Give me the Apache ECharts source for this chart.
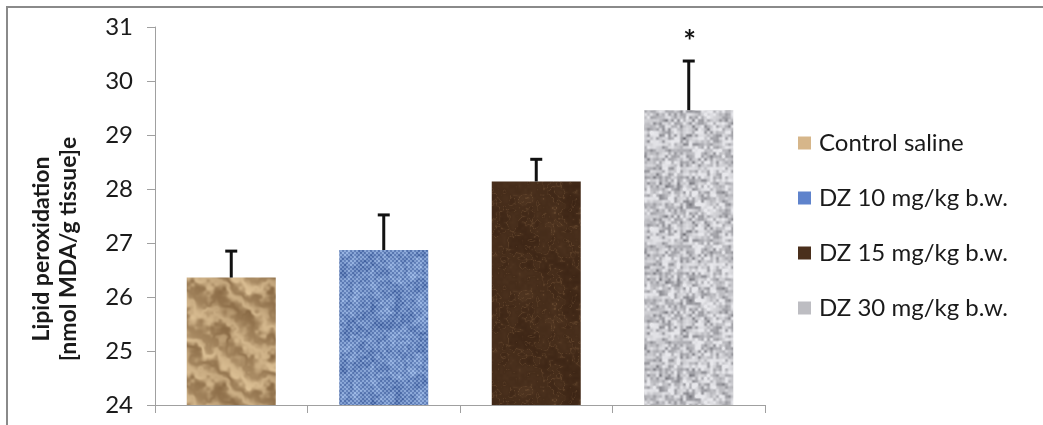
<!DOCTYPE html>
<html>
<head>
<meta charset="utf-8">
<script src="https://cdn.jsdelivr.net/npm/echarts@6/dist/echarts.min.js"></script>
<style>
html,body{margin:0;padding:0;background:#fff;}
#chart{width:1043px;height:425px;}
</style>
</head>
<body>
<div id="chart"></div>
<script>
// ---- data ----
var categories = ['Control saline', 'DZ 10 mg/kg b.w.', 'DZ 15 mg/kg b.w.', 'DZ 30 mg/kg b.w.'];
var means = [26.36, 26.87, 28.14, 29.46];
var upperErr = [26.85, 27.52, 28.55, 30.37];
var significance = ['', '', '', '*'];
var yTicks = [24, 25, 26, 27, 28, 29, 30, 31];
var yTitle = ['Lipid peroxidation', '[nmol MDA/g tissue]e'];
var swatchColors = ['#d6b68a', '#5f83cc', '#4a2f1c', '#bdbdc2'];

// ---- deterministic textures (styling only) ----
function hash(x, y, s) {
  var h = Math.sin(x * 127.1 + y * 311.7 + s * 74.7) * 43758.5453;
  return h - Math.floor(h);
}
function vnoise(x, y, cell, period, s) {
  var gx = x / cell, gy = y / cell;
  var x0 = Math.floor(gx), y0 = Math.floor(gy);
  var fx = gx - x0, fy = gy - y0;
  fx = fx * fx * (3 - 2 * fx); fy = fy * fy * (3 - 2 * fy);
  function g(i, j) { return hash(((i % period) + period) % period, ((j % period) + period) % period, s); }
  var a = g(x0, y0), b = g(x0 + 1, y0), c = g(x0, y0 + 1), d = g(x0 + 1, y0 + 1);
  return (a * (1 - fx) + b * fx) * (1 - fy) + (c * (1 - fx) + d * fx) * fy;
}
function mix(c1, c2, t) {
  t = Math.max(0, Math.min(1, t));
  return [c1[0] + (c2[0] - c1[0]) * t, c1[1] + (c2[1] - c1[1]) * t, c1[2] + (c2[2] - c1[2]) * t];
}
function makeTexture(kind) {
  var N = 96;
  var cv = document.createElement('canvas');
  cv.width = N; cv.height = N;
  var ctx = cv.getContext('2d');
  var img = ctx.createImageData(N, N);
  for (var y = 0; y < N; y++) {
    for (var x = 0; x < N; x++) {
      var col;
      if (kind === 0) {
        var n = 0.55 * vnoise(x, y, 16, 6, 1) + 0.3 * vnoise(x, y, 8, 12, 2) + 0.15 * vnoise(x, y, 4, 24, 3);
        var streak = 0.5 + 0.5 * Math.sin(2 * Math.PI * (2 * x - 3 * y) / 96 + n * 10);
        col = mix([122, 90, 54], [228, 200, 156], 0.3 + 0.5 * streak + 0.5 * (n - 0.5));
      } else if (kind === 1) {
        var n1 = vnoise(x, y, 3, 32, 4);
        var wx = (x % 4) < 2 ? 1 : 0, wy = (y % 4) < 2 ? 1 : 0;
        var t = 0.35 * n1 + 0.45 * ((wx ^ wy) ? 1 : 0.3) + 0.2 * vnoise(x, y, 12, 8, 5);
        col = mix([40, 72, 140], [170, 198, 240], t);
      } else if (kind === 2) {
        var n2 = 0.5 * vnoise(x, y, 24, 4, 6) + 0.3 * vnoise(x, y, 8, 12, 7) + 0.2 * vnoise(x, y, 3, 32, 10);
        var vein = 1 - Math.abs(Math.sin(n2 * 14));
        col = mix([56, 33, 18], [128, 94, 62], 0.1 + 0.35 * Math.pow(vein, 6) + 0.45 * (n2 - 0.3));
      } else {
        var n3 = 0.7 * vnoise(x, y, 3, 32, 8) + 0.3 * vnoise(x, y, 6, 16, 9);
        col = mix([105, 105, 112], [232, 232, 236], Math.pow(n3, 0.7) * 1.15);
      }
      var k = (y * N + x) * 4;
      img.data[k] = col[0]; img.data[k + 1] = col[1]; img.data[k + 2] = col[2]; img.data[k + 3] = 255;
    }
  }
  ctx.putImageData(img, 0, 0);
  return cv;
}

var FONT = 'Lato';
var chart = echarts.init(document.getElementById('chart'), null, { renderer: 'canvas' });

var barSeries = categories.map(function (name, i) {
  return {
    name: name,
    type: 'bar',
    barWidth: 89,
    barGap: '-100%',
    itemStyle: { color: { image: makeTexture(i), repeat: 'repeat' } },
    data: means.map(function (v, j) { return j === i ? v : null; }),
    z: 2
  };
});

var errData = means.map(function (v, i) { return [i, v, upperErr[i], significance[i]]; });

var option = {
  animation: false,
  backgroundColor: '#ffffff',
  grid: { left: 155, right: 278, top: 27, bottom: 20, containLabel: false },
  legend: {
    orient: 'vertical',
    left: 793,
    top: 126,
    itemWidth: 13,
    itemHeight: 13,
    itemGap: 31,
    icon: 'rect',
    data: categories.map(function (c, i) { return { name: c, itemStyle: { color: swatchColors[i] } }; }),
    textStyle: { fontFamily: FONT, fontSize: 24, color: '#1a1a1a', lineHeight: 24, padding: [0, 0, 0, 3] }
  },
  xAxis: {
    type: 'category',
    data: categories,
    axisLine: { lineStyle: { color: '#a0a0a0', width: 1 } },
    axisTick: { show: true, length: 8, lineStyle: { color: '#a0a0a0' } },
    axisLabel: { show: false },
    splitLine: { show: false }
  },
  yAxis: {
    type: 'value',
    min: yTicks[0],
    max: yTicks[yTicks.length - 1],
    interval: 1,
    axisLine: { show: true, lineStyle: { color: '#a0a0a0', width: 1 } },
    axisTick: { show: true, length: 8, lineStyle: { color: '#a0a0a0' } },
    axisLabel: { fontFamily: FONT, fontSize: 24, color: '#1a1a1a', margin: 22 },
    splitLine: { show: false }
  },
  graphic: [
    {
      type: 'rect',
      shape: { x: 7, y: 7, width: 1060, height: 440 },
      style: { fill: 'none', stroke: '#8a8a8a', lineWidth: 2 },
      silent: true
    },
    {
      type: 'text',
      x: 55, y: 249,
      rotation: Math.PI / 2,
      style: {
        text: yTitle.join('\n'),
        fontFamily: FONT, fontWeight: 'bold', fontSize: 23, lineHeight: 27,
        fill: '#1a1a1a', align: 'center', verticalAlign: 'middle'
      }
    }
  ],
  series: barSeries.concat([{
    type: 'custom',
    name: 'err',
    z: 5,
    data: errData,
    encode: { x: 0, y: [1, 2] },
    renderItem: function (params, api) {
      var i = api.value(0);
      var base = api.coord([i, api.value(1)]);
      var top = api.coord([i, api.value(2)]);
      var sig = significance[params.dataIndex];
      var children = [
        { type: 'line', shape: { x1: top[0], y1: base[1], x2: top[0], y2: top[1] }, style: { stroke: '#111', lineWidth: 3 } },
        { type: 'line', shape: { x1: top[0] - 6, y1: top[1], x2: top[0] + 6, y2: top[1] }, style: { stroke: '#111', lineWidth: 3 } }
      ];
      if (sig) {
        children.push({ type: 'text', x: top[0] + 1, y: top[1] - 4, style: { text: sig, fontFamily: FONT, fontWeight: 'bold', fontSize: 30, fill: '#111', align: 'center', verticalAlign: 'bottom' } });
      }
      return { type: 'group', children: children };
    }
  }])
};
chart.setOption(option);
</script>
</body>
</html>
